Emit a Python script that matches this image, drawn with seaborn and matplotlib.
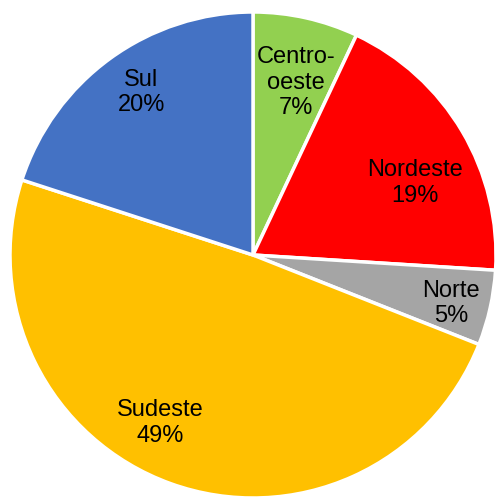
import numpy as np
import matplotlib
matplotlib.use("Agg")
import matplotlib.pyplot as plt
import seaborn as sns

categories = ["Centro-\noeste", "Nordeste", "Norte", "Sudeste", "Sul"]
values = [7, 19, 5, 49, 20]
colors = ["#92D050", "#FF0000", "#A5A5A5", "#FFC000", "#4472C4"]

# label placement (fraction of radius, angular offset in degrees)
label_r = [0.73, 0.73, 0.84, 0.79, 0.81]
label_dang = [-1.4, -6.6, -1.2, -9.2, -1.5]

sns.set_theme(style="white")
plt.rcParams['font.family'] = ['Liberation Sans', 'DejaVu Sans']

W, H = 496, 498
fig = plt.figure(figsize=(W / 100, H / 100), dpi=100)
cx, cy, r = 253, 255, 243
ax = fig.add_axes([(cx - r) / W, (H - cy - r) / H, 2 * r / W, 2 * r / H])

wedges, _ = ax.pie(values, colors=colors, startangle=90, counterclock=False,
                   wedgeprops=dict(edgecolor="white", linewidth=2.5))
ax.set_xlim(-1, 1)
ax.set_ylim(-1, 1)
ax.set_aspect("equal")
ax.axis("off")

total = sum(values)
for w, name, v, lr, da in zip(wedges, categories, values, label_r, label_dang):
    mid = (w.theta1 + w.theta2) / 2 + da
    x = lr * np.cos(np.radians(mid))
    y = lr * np.sin(np.radians(mid))
    ax.text(x, y, f"{name}\n{round(100 * v / total)}%", ha="center", va="center",
            fontsize=17, color="black", linespacing=1.2)

fig.savefig("out.png", dpi=100)
